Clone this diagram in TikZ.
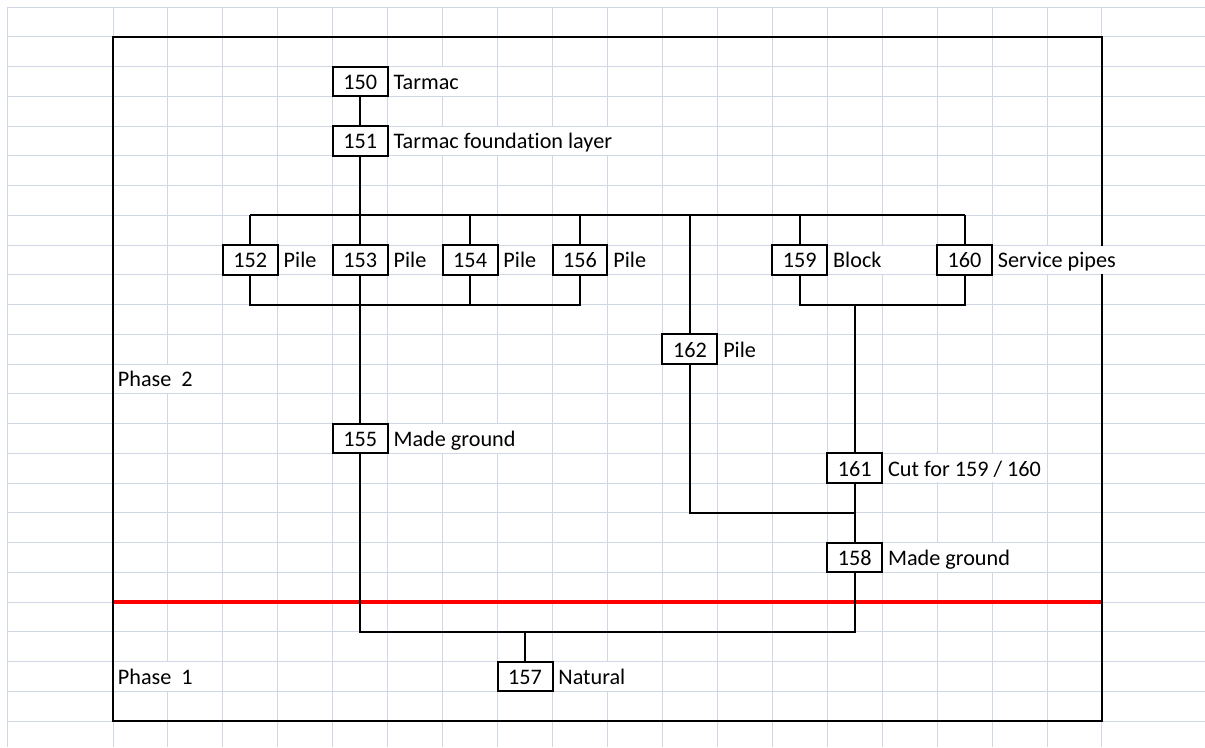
\documentclass[tikz,border=0pt]{standalone}
\usepackage{fontspec}
\setmainfont{Carlito}[Ligatures=NoCommon]
\usetikzlibrary{positioning}
\definecolor{cellgrid}{RGB}{208,215,229}
\tikzset{
  cbox/.style={draw, line width=1pt, fill=white, rectangle, minimum width=27.47pt, minimum height=14.875pt, inner sep=0pt, text height=8pt, text depth=0pt},
  clabel/.style={fill=white, anchor=west, inner xsep=1.7pt, inner ysep=0pt, minimum height=14.3pt, text height=8pt, text depth=0pt},
  link/.style={line width=1pt},
  gridline/.style={cellgrid, line width=0.5pt},
}
\begin{document}
\begin{tikzpicture}[x=27.47pt, y=-14.875pt, font=\fontsize{11.1}{13}\selectfont]
\useasboundingbox (-2.0568,-0.2353) rectangle (19.876,24.874);
% spreadsheet grid
\draw[gridline] (-1.929,0) -- (-1.929,24.874);
\foreach \c in {0,...,18} \draw[gridline] (\c,0) -- (\c,24.874);
\foreach \r in {0,...,24} \draw[gridline] (-1.929,\r) -- (19.876,\r);
% phase divider and frame
\draw[red, line width=1.65pt] (0,20) -- (18,20);
\draw[line width=1pt] (0,1) rectangle (18,24);
% contexts
\node[cbox] (n150) at (4.5,2.5) {150};
\node[cbox] (n151) at (4.5,4.5) {151};
\node[cbox] (n152) at (2.5,8.5) {152};
\node[cbox] (n153) at (4.5,8.5) {153};
\node[cbox] (n154) at (6.5,8.5) {154};
\node[cbox] (n156) at (8.5,8.5) {156};
\node[cbox] (n159) at (12.5,8.5) {159};
\node[cbox] (n160) at (15.5,8.5) {160};
\node[cbox] (n162) at (10.5,11.5) {162};
\node[cbox] (n155) at (4.5,14.5) {155};
\node[cbox] (n161) at (13.5,15.5) {161};
\node[cbox] (n158) at (13.5,18.5) {158};
\node[cbox] (n157) at (7.5,22.5) {157};
% descriptions
\node[clabel] (l150) at ([xshift=0.55pt]n150.east) {Tarmac};
\node[clabel] (l151) at ([xshift=0.55pt]n151.east) {Tarmac foundation layer};
\node[clabel] (l152) at ([xshift=0.55pt]n152.east) {Pile};
\node[clabel] (l153) at ([xshift=0.55pt]n153.east) {Pile};
\node[clabel] (l154) at ([xshift=0.55pt]n154.east) {Pile};
\node[clabel] (l156) at ([xshift=0.55pt]n156.east) {Pile};
\node[clabel] (l159) at ([xshift=0.55pt]n159.east) {Block};
\node[clabel] (l160) at ([xshift=0.55pt]n160.east) {Service pipes};
\node[clabel] (l162) at ([xshift=0.55pt]n162.east) {Pile};
\node[clabel] (l155) at ([xshift=0.55pt]n155.east) {Made ground};
\node[clabel] (l161) at ([xshift=0.55pt]n161.east) {Cut for 159 / 160};
\node[clabel] (l158) at ([xshift=0.55pt]n158.east) {Made ground};
\node[clabel] (l157) at ([xshift=0.55pt]n157.east) {Natural};
\node[clabel] (phase2) at (0.02,12.5) {Phase~~2};
\node[clabel] (phase1) at (0.02,22.5) {Phase~~1};
% bar levels
\coordinate (barA) at (0,7);
\coordinate (barB) at (0,10);
\coordinate (barC) at (0,17);
\coordinate (barD) at (0,21);
% links
\draw[link] (n150) -- (n151);
\draw[link] (n151) -- (n151 |- barA);
\draw[link] (n152 |- barA) -- (n160 |- barA);
\foreach \n in {n152,n153,n154,n156,n162,n159,n160}
  \draw[link] (\n |- barA) -- (\n);
\draw[link] (n152) -- (n152 |- barB) -- (n156 |- barB) -- (n156);
\draw[link] (n154) -- (n154 |- barB);
\draw[link] (n153) -- (n155);
\draw[link] (n159) -- (n159 |- barB) -- (n160 |- barB) -- (n160);
\draw[link] (n161 |- barB) -- (n161);
\draw[link] (n162) -- (n162 |- barC) -- (n161 |- barC);
\draw[link] (n161) -- (n158);
\draw[link] (n155) -- (n155 |- barD) -- (n158 |- barD) -- (n158);
\draw[link] (n157 |- barD) -- (n157);
\end{tikzpicture}
\end{document}
